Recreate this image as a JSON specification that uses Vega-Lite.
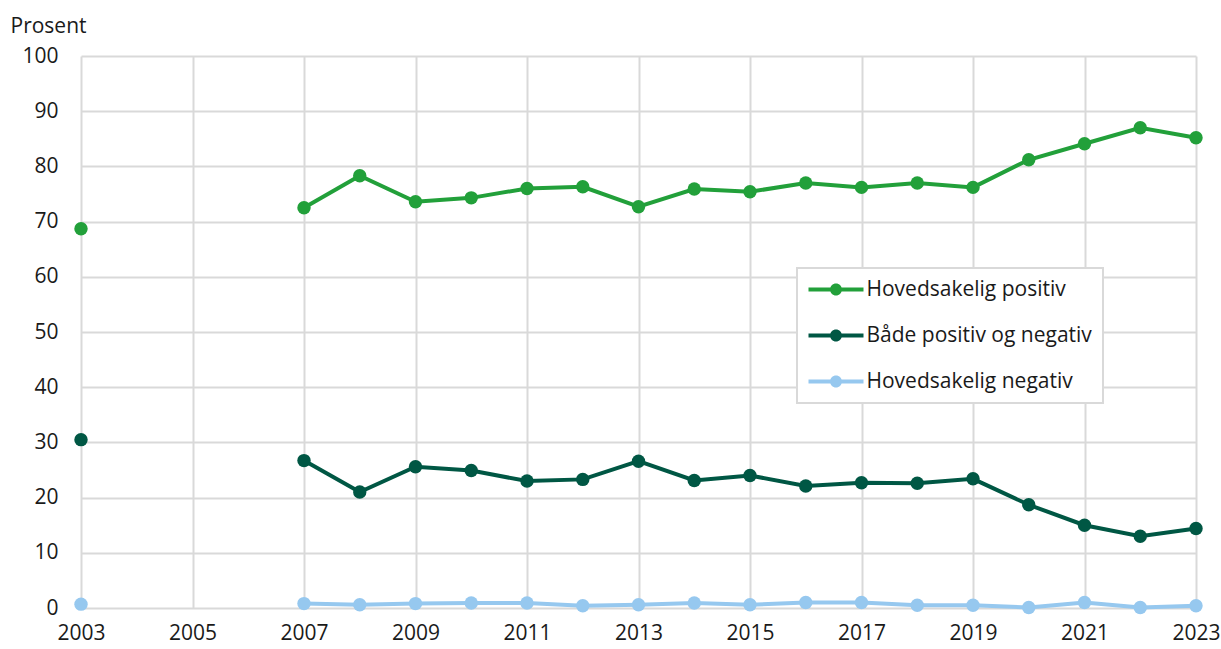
{
  "$schema": "https://vega.github.io/schema/vega-lite/v6.json",
  "autosize": "none",
  "width": 1115,
  "height": 552,
  "padding": {"left": 81, "top": 56, "right": 25, "bottom": 41},
  "background": "white",
  "config": {
    "font": "Open Sans",
    "view": {"stroke": null},
    "axis": {"labelFont": "Open Sans", "titleFont": "Open Sans", "labelColor": "#1a1a1a", "titleColor": "#1a1a1a"}
  },
  "data": {
    "values": [
      {"ar": 2003, "kategori": "Hovedsakelig positiv", "prosent": 68.7},
      {"ar": 2004, "kategori": "Hovedsakelig positiv", "prosent": null},
      {"ar": 2005, "kategori": "Hovedsakelig positiv", "prosent": null},
      {"ar": 2006, "kategori": "Hovedsakelig positiv", "prosent": null},
      {"ar": 2007, "kategori": "Hovedsakelig positiv", "prosent": 72.5},
      {"ar": 2008, "kategori": "Hovedsakelig positiv", "prosent": 78.3},
      {"ar": 2009, "kategori": "Hovedsakelig positiv", "prosent": 73.6},
      {"ar": 2010, "kategori": "Hovedsakelig positiv", "prosent": 74.3},
      {"ar": 2011, "kategori": "Hovedsakelig positiv", "prosent": 76.0},
      {"ar": 2012, "kategori": "Hovedsakelig positiv", "prosent": 76.3},
      {"ar": 2013, "kategori": "Hovedsakelig positiv", "prosent": 72.7},
      {"ar": 2014, "kategori": "Hovedsakelig positiv", "prosent": 75.9},
      {"ar": 2015, "kategori": "Hovedsakelig positiv", "prosent": 75.4},
      {"ar": 2016, "kategori": "Hovedsakelig positiv", "prosent": 77.0},
      {"ar": 2017, "kategori": "Hovedsakelig positiv", "prosent": 76.2},
      {"ar": 2018, "kategori": "Hovedsakelig positiv", "prosent": 77.0},
      {"ar": 2019, "kategori": "Hovedsakelig positiv", "prosent": 76.2},
      {"ar": 2020, "kategori": "Hovedsakelig positiv", "prosent": 81.2},
      {"ar": 2021, "kategori": "Hovedsakelig positiv", "prosent": 84.1},
      {"ar": 2022, "kategori": "Hovedsakelig positiv", "prosent": 87.0},
      {"ar": 2023, "kategori": "Hovedsakelig positiv", "prosent": 85.2},
      {"ar": 2003, "kategori": "Både positiv og negativ", "prosent": 30.5},
      {"ar": 2004, "kategori": "Både positiv og negativ", "prosent": null},
      {"ar": 2005, "kategori": "Både positiv og negativ", "prosent": null},
      {"ar": 2006, "kategori": "Både positiv og negativ", "prosent": null},
      {"ar": 2007, "kategori": "Både positiv og negativ", "prosent": 26.7},
      {"ar": 2008, "kategori": "Både positiv og negativ", "prosent": 21.0},
      {"ar": 2009, "kategori": "Både positiv og negativ", "prosent": 25.6},
      {"ar": 2010, "kategori": "Både positiv og negativ", "prosent": 24.9},
      {"ar": 2011, "kategori": "Både positiv og negativ", "prosent": 23.0},
      {"ar": 2012, "kategori": "Både positiv og negativ", "prosent": 23.3},
      {"ar": 2013, "kategori": "Både positiv og negativ", "prosent": 26.6},
      {"ar": 2014, "kategori": "Både positiv og negativ", "prosent": 23.1},
      {"ar": 2015, "kategori": "Både positiv og negativ", "prosent": 24.0},
      {"ar": 2016, "kategori": "Både positiv og negativ", "prosent": 22.1},
      {"ar": 2017, "kategori": "Både positiv og negativ", "prosent": 22.7},
      {"ar": 2018, "kategori": "Både positiv og negativ", "prosent": 22.6},
      {"ar": 2019, "kategori": "Både positiv og negativ", "prosent": 23.4},
      {"ar": 2020, "kategori": "Både positiv og negativ", "prosent": 18.7},
      {"ar": 2021, "kategori": "Både positiv og negativ", "prosent": 15.0},
      {"ar": 2022, "kategori": "Både positiv og negativ", "prosent": 13.0},
      {"ar": 2023, "kategori": "Både positiv og negativ", "prosent": 14.4},
      {"ar": 2003, "kategori": "Hovedsakelig negativ", "prosent": 0.7},
      {"ar": 2004, "kategori": "Hovedsakelig negativ", "prosent": null},
      {"ar": 2005, "kategori": "Hovedsakelig negativ", "prosent": null},
      {"ar": 2006, "kategori": "Hovedsakelig negativ", "prosent": null},
      {"ar": 2007, "kategori": "Hovedsakelig negativ", "prosent": 0.8},
      {"ar": 2008, "kategori": "Hovedsakelig negativ", "prosent": 0.6},
      {"ar": 2009, "kategori": "Hovedsakelig negativ", "prosent": 0.8},
      {"ar": 2010, "kategori": "Hovedsakelig negativ", "prosent": 0.9},
      {"ar": 2011, "kategori": "Hovedsakelig negativ", "prosent": 0.9},
      {"ar": 2012, "kategori": "Hovedsakelig negativ", "prosent": 0.4},
      {"ar": 2013, "kategori": "Hovedsakelig negativ", "prosent": 0.6},
      {"ar": 2014, "kategori": "Hovedsakelig negativ", "prosent": 0.9},
      {"ar": 2015, "kategori": "Hovedsakelig negativ", "prosent": 0.6},
      {"ar": 2016, "kategori": "Hovedsakelig negativ", "prosent": 1.0},
      {"ar": 2017, "kategori": "Hovedsakelig negativ", "prosent": 1.0},
      {"ar": 2018, "kategori": "Hovedsakelig negativ", "prosent": 0.5},
      {"ar": 2019, "kategori": "Hovedsakelig negativ", "prosent": 0.5},
      {"ar": 2020, "kategori": "Hovedsakelig negativ", "prosent": 0.1},
      {"ar": 2021, "kategori": "Hovedsakelig negativ", "prosent": 1.0},
      {"ar": 2022, "kategori": "Hovedsakelig negativ", "prosent": 0.1},
      {"ar": 2023, "kategori": "Hovedsakelig negativ", "prosent": 0.4}
    ]
  },
  "encoding": {
    "x": {
      "field": "ar", "type": "quantitative",
      "scale": {"domain": [2003, 2023], "nice": false, "zero": false},
      "axis": {
        "title": null, "values": [2003, 2005, 2007, 2009, 2011, 2013, 2015, 2017, 2019, 2021, 2023],
        "format": "d", "domain": false, "ticks": false, "grid": true,
        "gridColor": "#d9d9d9", "gridWidth": 2, "labelFontSize": 21, "labelPadding": 14,
        "labelFlush": false
      }
    },
    "y": {
      "field": "prosent", "type": "quantitative",
      "scale": {"domain": [0, 100], "nice": false},
      "axis": {
        "title": "Prosent", "titleAngle": 0, "titleAlign": "left", "titleBaseline": "alphabetic",
        "titleX": -71, "titleY": -24, "titleFontSize": 21, "titleFontWeight": "normal",
        "values": [0, 10, 20, 30, 40, 50, 60, 70, 80, 90, 100],
        "domain": false, "ticks": false, "grid": true, "gridColor": "#d9d9d9", "gridWidth": 2,
        "labelFontSize": 21, "labelPadding": 23
      }
    },
    "color": {
      "field": "kategori", "type": "nominal",
      "scale": {
        "domain": ["Hovedsakelig positiv", "Både positiv og negativ", "Hovedsakelig negativ"],
        "range": ["#22a03a", "#005744", "#96c8ef"]
      },
      "legend": {
        "title": null, "orient": "none", "legendX": 716, "legendY": 212,
        "strokeColor": "#d9d9d9", "padding": 11, "fillColor": "white",
        "labelFontSize": 21, "labelFont": "Open Sans", "labelColor": "#1a1a1a", "labelLimit": 0,
        "symbolType": "M-2.75,-0.2 L-0.55,-0.2 L-0.55,0.2 L-2.75,0.2 Z M0.55,-0.2 L2.75,-0.2 L2.75,0.2 L0.55,0.2 Z M-0.6,0 A0.6,0.6 0 1,1 0.6,0 A0.6,0.6 0 1,1 -0.6,0 Z",
        "symbolSize": 400, "symbolStrokeWidth": 0, "symbolOffset": 17.5, "labelOffset": 20,
        "rowPadding": 24,
        "encode": {
          "symbols": {"update": {"fill": {"scale": "color", "field": "value"}, "strokeWidth": {"value": 0}, "opacity": {"value": 1}}},
          "legend": {"update": {"strokeWidth": {"value": 2}}}
        }
      }
    }
  },
  "layer": [
    {"mark": {"type": "line", "strokeWidth": 4, "invalid": "break-paths-filter-domains"}},
    {"mark": {"type": "point", "filled": true, "size": 180, "opacity": 1, "invalid": "filter"}}
  ]
}
